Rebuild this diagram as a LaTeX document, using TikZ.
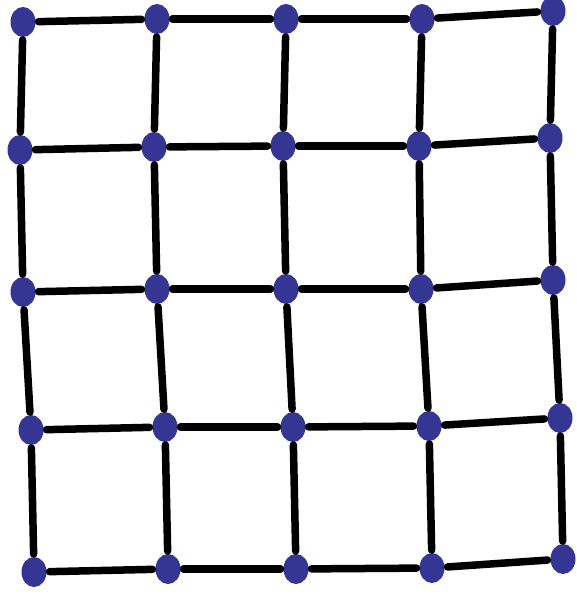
\documentclass[tikz,border=0pt]{standalone}
\usetikzlibrary{shapes.geometric}
\definecolor{dotblue}{HTML}{353594}
\begin{document}
\begin{tikzpicture}[x=1pt,y=-1pt,
  dot/.style={ellipse,fill=dotblue,draw=none,minimum width=25pt,minimum height=30pt,inner sep=0pt,outer sep=0pt},
  edge/.style={line width=7.5pt,line cap=round,black,shorten >=3pt,shorten <=3pt}]
\useasboundingbox (0,0) rectangle (577,597);
\foreach \r/\c/\x/\y in {
 1/1/23/22, 1/2/157/19, 1/3/286/19, 1/4/422/19, 1/5/553/11,
 2/1/20/150, 2/2/154/147, 2/3/283/146, 2/4/419/146, 2/5/550/138,
 3/1/23/292, 3/2/157/289, 3/3/286/289, 3/4/421/289, 3/5/553/280,
 4/1/31/430, 4/2/165/427, 4/3/293/427, 4/4/429/426, 4/5/560/418,
 5/1/34/572, 5/2/168/569, 5/3/296/569, 5/4/432/568, 5/5/563/559}
 \node[dot] (n\r\c) at (\x,\y) {};
\foreach \r in {1,...,5}{
  \foreach \c/\d in {1/2,2/3,3/4,4/5}{
    \draw[edge] (n\r\c) -- (n\r\d);
  }
}
\foreach \c in {1,...,5}{
  \foreach \r/\s in {1/2,2/3,3/4,4/5}{
    \draw[edge] (n\r\c) -- (n\s\c);
  }
}
\end{tikzpicture}
\end{document}
